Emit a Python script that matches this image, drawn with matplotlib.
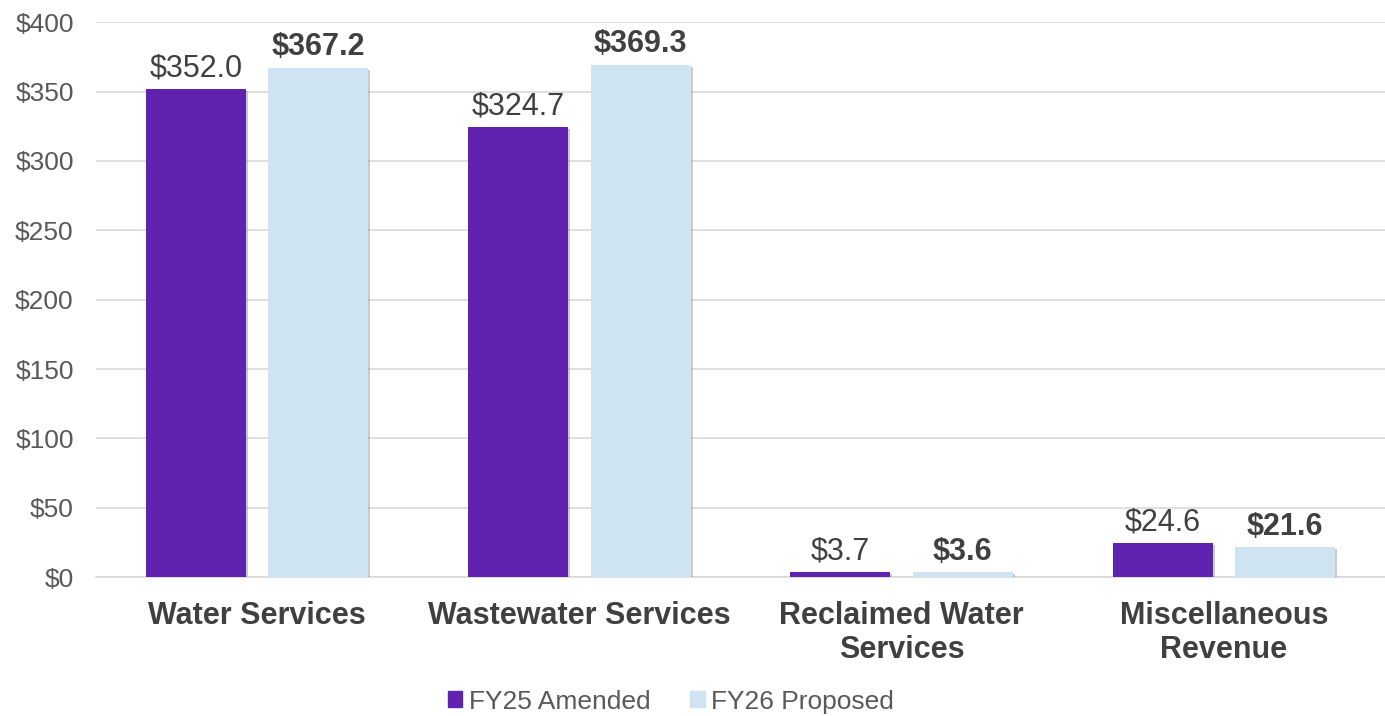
import numpy as np
import matplotlib
matplotlib.use("Agg")
import matplotlib.pyplot as plt
import matplotlib.patheffects as pe
from matplotlib.patches import Patch

# data
categories = ["Water Services", "Wastewater Services", "Reclaimed Water\nServices", "Miscellaneous\nRevenue"]
fy25 = [352.0, 324.7, 3.7, 24.6]
fy26 = [367.2, 369.3, 3.6, 21.6]
series_names = ["FY25 Amended", "FY26 Proposed"]
yticks = [0, 50, 100, 150, 200, 250, 300, 350, 400]

purple = "#6023B0"
lightblue = "#CFE4F3"

plt.rcParams["font.family"] = ["Liberation Sans", "DejaVu Sans"]

fig = plt.figure(figsize=(13.85, 7.16), dpi=100)
ax = fig.add_axes([0.0693, 0.194, 0.9307, 0.775])

x = np.arange(len(categories))
w = 0.31
off = 0.19
shadow = [pe.SimplePatchShadow(offset=(1.5, -1.5), shadow_rgbFace="#999999", alpha=0.5), pe.Normal()]

b1 = ax.bar(x - off, fy25, w, color=purple, zorder=3)
b2 = ax.bar(x + off, fy26, w, color=lightblue, zorder=3)
for b in list(b1) + list(b2):
    b.set_path_effects(shadow)

for xi, v in zip(x - off, fy25):
    ax.text(xi, v + 4, "${:.1f}".format(v), ha="center", va="bottom",
            fontsize=22, color="#404040")
for xi, v in zip(x + off, fy26):
    ax.text(xi, v + 4, "${:.1f}".format(v), ha="center", va="bottom",
            fontsize=22, color="#404040", fontweight="bold")

ax.set_xlim(-0.5, 3.5)
ax.set_ylim(0, 400)
ax.set_yticks(yticks)
ax.set_yticklabels(["${}".format(t) for t in yticks])
ax.set_xticks(x)
ax.set_xticklabels(categories, fontsize=22, fontweight="bold", color="#404040", linespacing=1.2)
ax.tick_params(axis="y", labelsize=19, labelcolor="#595959", length=0, pad=16)
ax.tick_params(axis="x", length=0, pad=17)

ax.grid(axis="y", color="#D9D9D9", linewidth=1.2, zorder=0)
for s in ["top", "right", "left"]:
    ax.spines[s].set_visible(False)
ax.spines["bottom"].set_color("#D9D9D9")
ax.spines["bottom"].set_linewidth(1.2)

handles = [Patch(color=purple), Patch(color=lightblue)]
leg = fig.legend(handles, series_names, loc="lower center", bbox_to_anchor=(0.4845, -0.03), ncol=2,
                 frameon=False, fontsize=19, handlelength=0.55, handleheight=0.55,
                 handletextpad=0.25, columnspacing=1.5, labelcolor="#595959")

fig.savefig("out.png", dpi=100)
